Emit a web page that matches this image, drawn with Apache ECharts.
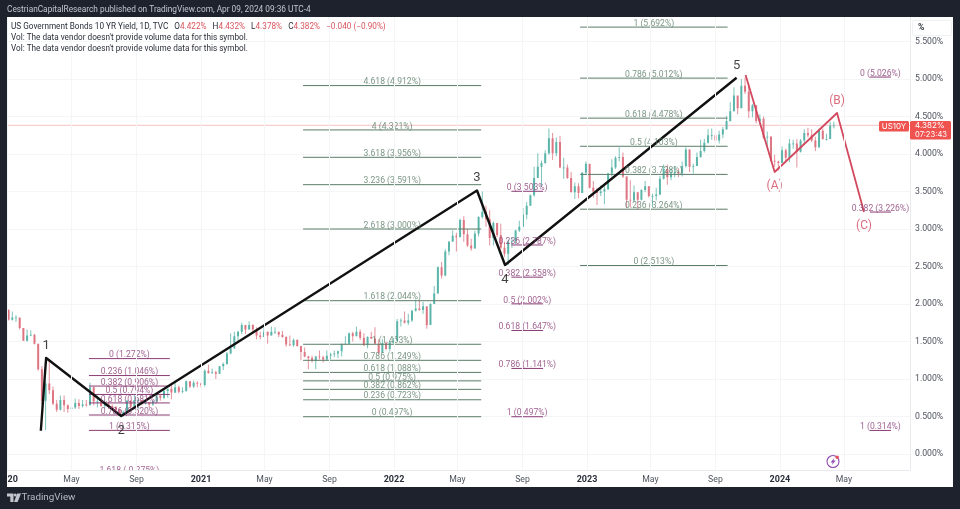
<!DOCTYPE html>
<html><head><meta charset="utf-8">
<style>html,body{margin:0;padding:0;background:#1e222d}#c{width:960px;height:509px}</style>
<script src="https://cdn.jsdelivr.net/npm/echarts@6/dist/echarts.min.js"></script>
</head><body><div id="c"></div>
<script>
// ---------- Data (weekly candles) ----------
const firstWeek = '2020-01-03';
const firstOpen = 1.92;
const closes = [1.79,1.82,1.82,1.68,1.51,1.58,1.59,1.47,1.13,0.71,0.94,0.85,0.67,0.59,0.72,0.65,0.60,0.62,0.68,0.64,0.66,0.65,0.89,0.70,0.70,0.64,0.67,0.64,0.62,0.59,0.53,0.56,0.71,0.63,0.72,0.72,0.67,0.69,0.66,0.70,0.78,0.75,0.84,0.87,0.82,0.89,0.83,0.84,0.97,0.90,0.95,0.94,
0.92,1.11,1.08,1.09,1.07,1.17,1.20,1.34,1.41,1.57,1.63,1.72,1.66,1.72,1.66,1.58,1.56,1.63,1.58,1.63,1.63,1.59,1.56,1.46,1.45,1.52,1.44,1.36,1.30,1.28,1.24,1.30,1.29,1.26,1.31,1.33,1.34,1.37,1.47,1.47,1.61,1.57,1.63,1.55,1.45,1.56,1.54,1.47,1.35,1.48,1.40,1.49,1.51,
1.77,1.78,1.75,1.78,1.91,1.94,1.92,1.97,1.72,2.00,2.14,2.49,2.38,2.70,2.83,2.91,2.89,3.12,2.93,2.78,2.74,2.94,3.16,3.23,3.13,2.88,3.08,2.92,2.75,2.67,2.83,2.84,2.98,3.03,3.19,3.31,3.45,3.68,3.83,3.88,4.01,4.21,4.01,4.16,3.82,3.82,3.68,3.49,3.57,3.48,3.75,3.87,
3.55,3.50,3.48,3.50,3.53,3.74,3.82,3.95,3.96,3.70,3.39,3.38,3.49,3.39,3.52,3.57,3.44,3.44,3.46,3.67,3.80,3.69,3.74,3.76,3.74,3.84,4.06,3.83,3.84,3.96,4.04,4.15,4.25,4.25,4.18,4.26,4.33,4.44,4.57,4.78,4.61,4.91,4.83,4.57,4.65,4.44,4.47,4.22,4.23,3.91,3.90,3.88,
4.05,3.95,4.14,4.14,4.03,4.18,4.28,4.25,4.18,4.09,4.31,4.20,4.20,4.38,4.38];
const highs = [1.93,1.90,1.85,1.80,1.68,1.66,1.65,1.60,1.47,1.17,0.98,1.27,0.90,0.72,0.78,0.78,0.66,0.67,0.74,0.73,0.72,0.72,0.95,0.90,0.78,0.72,0.71,0.70,0.66,0.64,0.60,0.58,0.72,0.71,0.79,0.74,0.72,0.72,0.69,0.72,0.80,0.78,0.88,0.87,0.95,0.97,0.91,0.89,0.98,0.97,0.98,0.97,
0.95,1.13,1.19,1.14,1.11,1.17,1.22,1.36,1.61,1.63,1.64,1.75,1.70,1.77,1.73,1.69,1.63,1.69,1.63,1.70,1.69,1.63,1.64,1.57,1.58,1.54,1.53,1.44,1.42,1.31,1.31,1.31,1.38,1.31,1.38,1.35,1.38,1.38,1.47,1.57,1.62,1.63,1.70,1.66,1.61,1.57,1.63,1.69,1.53,1.53,1.50,1.50,1.55,
1.80,1.81,1.90,1.87,1.92,2.06,2.05,2.03,1.87,2.01,2.24,2.50,2.56,2.73,2.84,2.98,2.95,3.14,3.17,3.00,2.87,2.98,3.17,3.50,3.31,3.25,3.10,3.07,3.07,2.83,2.86,2.89,2.99,3.11,3.28,3.36,3.46,3.83,4.01,3.91,4.05,4.34,4.28,4.22,4.24,3.95,3.86,3.76,3.62,3.61,3.76,3.90,
3.79,3.64,3.55,3.58,3.57,3.75,3.93,3.97,4.09,4.02,3.70,3.65,3.58,3.49,3.53,3.64,3.57,3.47,3.55,3.71,3.86,3.86,3.81,3.84,3.81,3.90,4.09,4.06,3.87,4.02,4.19,4.20,4.33,4.34,4.24,4.31,4.36,4.51,4.69,4.89,4.72,5.00,5.02,4.94,4.67,4.65,4.53,4.50,4.30,4.24,3.99,3.91,
4.10,4.07,4.20,4.19,4.20,4.20,4.33,4.35,4.33,4.23,4.34,4.34,4.27,4.43,4.43];
const lows = [1.78,1.78,1.76,1.66,1.51,1.50,1.57,1.46,1.11,0.66,0.32,0.80,0.65,0.56,0.58,0.56,0.55,0.58,0.60,0.60,0.62,0.63,0.65,0.65,0.62,0.63,0.61,0.60,0.60,0.56,0.52,0.50,0.55,0.62,0.63,0.60,0.65,0.66,0.62,0.64,0.69,0.71,0.73,0.75,0.73,0.81,0.81,0.81,0.83,0.88,0.88,0.89,
0.89,0.90,1.07,1.07,1.00,1.07,1.12,1.19,1.33,1.40,1.50,1.60,1.60,1.66,1.62,1.53,1.53,1.56,1.47,1.58,1.60,1.56,1.55,1.43,1.44,1.43,1.43,1.25,1.29,1.13,1.22,1.13,1.26,1.22,1.25,1.26,1.29,1.28,1.30,1.46,1.46,1.50,1.57,1.52,1.44,1.41,1.53,1.47,1.33,1.35,1.39,1.37,1.47,
1.63,1.70,1.74,1.72,1.76,1.90,1.91,1.87,1.67,1.72,2.10,2.14,2.34,2.37,2.65,2.84,2.70,2.90,2.83,2.76,2.71,2.74,2.90,3.14,3.03,2.78,2.78,2.89,2.73,2.63,2.52,2.75,2.80,2.96,3.03,3.13,3.31,3.43,3.70,3.56,3.87,3.99,3.92,3.97,3.81,3.67,3.67,3.49,3.40,3.41,3.48,3.72,
3.54,3.42,3.32,3.44,3.33,3.52,3.70,3.80,3.90,3.68,3.28,3.29,3.37,3.26,3.38,3.49,3.42,3.30,3.38,3.45,3.66,3.59,3.65,3.69,3.69,3.70,3.82,3.76,3.74,3.84,3.95,4.02,4.14,4.19,4.05,4.14,4.21,4.32,4.43,4.57,4.53,4.62,4.80,4.48,4.49,4.41,4.39,4.20,4.11,3.90,3.83,3.78,
3.90,3.90,3.89,4.07,3.82,4.02,4.13,4.22,4.16,4.04,4.08,4.19,4.18,4.31,4.34];

const yTicks = [0,0.5,1,1.5,2,2.5,3,3.5,4,4.5,5,5.5];
const timeTicks = ['2020-01-01','2020-05-01','2020-09-01','2021-01-01','2021-05-01','2021-09-01','2022-01-01','2022-05-01','2022-09-01','2023-01-01','2023-05-01','2023-09-01','2024-01-01','2024-05-01'];

const waveDates = ['2020-03-04','2020-03-14','2020-08-03','2022-06-07','2022-07-30','2023-10-11'];
const waveValues = [0.31,1.28,0.507,3.513,2.52,5.016];
const waveNames = ['','1','2','3','4','5'];
const correctionDates = ['2023-10-28','2023-12-22','2024-04-18','2024-06-08'];
const correctionValues = [5.053,3.76,4.547,3.227];
const correctionNames = ['','(A)','(B)','(C)'];

const fibARatios = ['4.618','4','3.618','3.236','2.618','1.618','1','0.786','0.618','0.5','0.382','0.236','0'];
const fibALevels = [4.912,4.321,3.956,3.591,3.000,2.044,1.463,1.249,1.088,0.975,0.862,0.723,0.497];
const fibASpan = ['2021-07-13','2022-06-15'];
const fibBRatios = ['1','0.786','0.618','0.5','0.382','0.236','0'];
const fibBLevels = [5.692,5.012,4.478,4.103,3.728,3.264,2.513];
const fibBSpan = ['2022-12-19','2023-09-24'];
const fibCRatios = ['0','0.236','0.382','0.5','0.618','0.786','1','1.618'];
const fibCLevels = [1.272,1.046,0.906,0.794,0.681,0.520,0.315,-0.275];
const fibCSpan = ['2020-06-03','2020-11-03'];
const fibDRatios = ['0','0.236','0.382','0.5','0.618','0.786','1'];
const fibDLevels = [3.503,2.787,2.358,2.002,1.647,1.141,0.497];
const fibDSpan = ['2022-08-11','2022-10-10'];
const fibERatios = ['0','0.382','1'];
const fibELevels = [5.026,3.226,0.314];
const fibESpan = ['2024-06-19','2024-07-29'];
const lastPrice = 4.382;

// ---------- Build ----------
const ts = s => { const [y,m,d] = s.split('-').map(Number); return Date.UTC(y,m-1,d); };
const DAY = 86400000;
const xMin = Date.UTC(2019,11,31), xMax = Date.UTC(2024,8,3);
const candles = closes.map((c,i) => [ts(firstWeek)+i*7*DAY, i? closes[i-1]:firstOpen, c, lows[i], highs[i]]);

const GREEN='#5a7c66', PURPLE='#8a3c75', ROSE='#d2495f';
const UP='#5bb5aa', DOWN='#de7583';
const FONT='Roboto, "Noto Sans", sans-serif';
const TAGFONT='Inter, "Noto Sans", sans-serif';
const MONTHS={4:'May',8:'Sep'};

function drawCandle(params, api){
  const t=api.value(0), o=api.value(1), c=api.value(2), l=api.value(3), h=api.value(4);
  const pO=api.coord([t,o]), pC=api.coord([t,c]), pL=api.coord([t,l]), pH=api.coord([t,h]);
  const col=c>=o?UP:DOWN;
  const top=Math.min(pO[1],pC[1]), ht=Math.max(Math.abs(pO[1]-pC[1]),0.8);
  return {type:'group',children:[
    {type:'line',shape:{x1:pH[0],y1:pH[1],x2:pL[0],y2:pL[1]},style:{stroke:col,lineWidth:0.8}},
    {type:'rect',shape:{x:pO[0]-1,y:top,width:2,height:ht},style:{fill:col}}
  ]};
}

function fib(ratios, levels, span, color, name){
  const a=ts(span[0]), b=ts(span[1]), mid=(a+b)/2;
  const lineData=[]; 
  levels.forEach(v=>{lineData.push([a,v],[b,v],[b,null]);});
  return [{
    name:name+' lines', type:'line', data:lineData, showSymbol:false, connectNulls:false, silent:true, z:3, clip:true,
    lineStyle:{color:color,width:1}
  },{
    name:name+' labels', type:'scatter', symbolSize:0, silent:true, z:6, clip:false,
    data:levels.map((v,i)=>({value:[mid,v],label:{formatter:ratios[i]+' ('+v.toFixed(3)+'%)'}})),
    label:{show:true,position:'top',distance:0,offset:[0,1],color:color,fontFamily:FONT,fontSize:8.6}
  }];
}
function wave(dates, values, names, color, width, size, name){
  return [{
    name:name, type:'line', data:dates.map((d,i)=>[ts(d),values[i]]), showSymbol:false, silent:true, z:5, clip:false,
    lineStyle:{color:color,width:width,join:'round'}
  },{
    name:name+' tags', type:'scatter', symbolSize:0, silent:true, z:7, clip:false,
    data:dates.map((d,i)=>{
      const dn = i>0 && values[i]<values[i-1];
      return {value:[ts(d),values[i]],label:{show:!!names[i],formatter:names[i],position:dn?'bottom':'top',distance:dn?8:6}};
    }),
    label:{color:color,fontFamily:FONT,fontSize:size}
  }];
}

const option={
  animation:false, backgroundColor:'#ffffff',
  grid:{left:7,right:50,top:17,bottom:39,containLabel:false,outerBoundsMode:'none'},
  xAxis:{type:'value',min:xMin,max:xMax,z:60,
    axisLine:{show:true,onZero:false,lineStyle:{color:'#e9eaee',width:1}},
    axisTick:{show:false,customValues:timeTicks.map(ts)},
    splitLine:{show:true,lineStyle:{color:'#f4f5f7',width:1}},
    axisLabel:{customValues:timeTicks.map(ts),hideOverlap:false,margin:5,color:'#4f535e',fontFamily:FONT,fontSize:8.7,
      showMinLabel:true,showMaxLabel:true,
      formatter:v=>{const d=new Date(v);const m=d.getUTCMonth();return m===0?'{y|'+d.getUTCFullYear()+'}':MONTHS[m];},
      rich:{y:{fontWeight:'bold',color:'#2a2e39',fontFamily:FONT,fontSize:9}}}},
  yAxis:{type:'value',position:'right',min:-16/75,max:437/75,scale:false,
    axisLine:{show:true,onZero:false,lineStyle:{color:'#e9eaee',width:1}},
    axisTick:{show:false,customValues:yTicks},
    splitLine:{show:true,lineStyle:{color:'#f4f5f7',width:1}},
    axisLabel:{customValues:yTicks,margin:5,padding:[4,0,0,0],color:'#4f535e',fontFamily:FONT,fontSize:8.7,
      formatter:v=>v.toFixed(3)+'%'}},
  series:[
    {name:'Last price',type:'line',data:[[xMin,lastPrice],[xMax,lastPrice]],showSymbol:false,silent:true,z:1,
     itemStyle:{color:'#f5cdd0'},lineStyle:{color:'#f5cdd0',width:1.4}},
    {name:'US10Y',type:'custom',data:candles,encode:{x:0,y:[1,2,3,4]},renderItem:drawCandle,clip:true,z:2,silent:true},
    ...fib(fibARatios,fibALevels,fibASpan,GREEN,'Fib A'),
    ...fib(fibBRatios,fibBLevels,fibBSpan,GREEN,'Fib B'),
    ...fib(fibCRatios,fibCLevels,fibCSpan,PURPLE,'Fib C'),
    ...fib(fibDRatios,fibDLevels,fibDSpan,PURPLE,'Fib D'),
    ...fib(fibERatios,fibELevels,fibESpan,PURPLE,'Fib E'),
    ...wave(waveDates,waveValues,waveNames,'#111111',2.4,13,'Impulse'),
    ...wave(correctionDates,correctionValues,correctionNames,ROSE,1.8,12,'Correction')
  ],
  graphic:{elements:[
    {type:'rect',z:50,silent:true,shape:{x:7,y:470.5,width:903,height:17},style:{fill:'#fff'}},
    {type:'rect',z:100,silent:true,shape:{x:0,y:0,width:960,height:17},style:{fill:'#1e222d'}},
    {type:'rect',z:100,silent:true,shape:{x:0,y:487,width:960,height:22},style:{fill:'#1e222d'}},
    {type:'rect',z:100,silent:true,shape:{x:0,y:0,width:7,height:509},style:{fill:'#1e222d'}},
    {type:'rect',z:100,silent:true,shape:{x:953,y:0,width:7,height:509},style:{fill:'#1e222d'}},
    {type:'text',z:101,x:7,y:6,style:{text:'CestrianCapitalResearch published on TradingView.com, Apr 09, 2024 09:36 UTC-4',fill:'#c3c6ce',font:'8.3px '+FONT}},
    {type:'polygon',z:101,shape:{points:[[7,493.5],[13.5,493.5],[13.5,502],[10.3,502],[10.3,496.6],[7,496.6]]},style:{fill:'#c3c6ce'}},
    {type:'circle',z:101,shape:{cx:15.2,cy:495,r:1.5},style:{fill:'#c3c6ce'}},
    {type:'polygon',z:101,shape:{points:[[17.2,493.5],[21,493.5],[17.6,502],[14,502]]},style:{fill:'#c3c6ce'}},
    {type:'text',z:101,x:21.5,y:492.5,style:{text:'TradingView',fill:'#b7bac2',font:'9.8px '+FONT}},
    {type:'text',z:70,x:11,y:23,style:{text:'{a|US Government Bonds 10 YR Yield, 1D, TVC   O}{r|4.422%}{a|   H}{r|4.432%}{a|   L}{r|4.378%}{a|   C}{r|4.382%}{r|   \u22120.040 (\u22120.90%)}',
      rich:{a:{fill:'#2a2e39',font:'8.2px '+FONT},r:{fill:'#d9555f',font:'8.2px '+FONT}}}},
    {type:'text',z:70,x:11,y:34,style:{text:"Vol: The data vendor doesn't provide volume data for this symbol.",fill:'#2a2e39',font:'8.2px '+FONT}},
    {type:'text',z:70,x:11,y:44.5,style:{text:"Vol: The data vendor doesn't provide volume data for this symbol.",fill:'#2a2e39',font:'8.2px '+FONT}},
    {type:'rect',z:70,shape:{x:912.5,y:20.5,width:39,height:15,r:2},style:{fill:'#fff',stroke:'#eff0f3'}},
    {type:'text',z:71,x:918,y:23,style:{text:'%',fill:'#2a2e39',font:'bold 8.5px '+FONT}},
    {type:'rect',z:70,shape:{x:879,y:121,width:30,height:10.5,r:1.5},style:{fill:'#ee5350'}},
    {type:'text',z:71,x:894,y:126.3,style:{text:'US10Y',fill:'#fff',font:'8px '+TAGFONT,align:'center',verticalAlign:'middle'}},
    {type:'rect',z:70,shape:{x:910,y:121,width:41,height:18.5,r:1.5},style:{fill:'#ee5350'}},
    {type:'text',z:71,x:915,y:126,style:{text:'4.382%',fill:'#fff',font:'8px '+TAGFONT,verticalAlign:'middle'}},
    {type:'text',z:71,x:915,y:134.5,style:{text:'07:23:43',fill:'#fff',font:'7.6px '+TAGFONT,verticalAlign:'middle'}},
    {type:'circle',z:70,shape:{cx:833,cy:461.5,r:6},style:{fill:'#fff',stroke:'#8e4bb0',lineWidth:1.1}},
    {type:'polygon',z:71,shape:{points:[[834.4,457.8],[830.6,462.4],[832.8,462.4],[831.8,465.3],[835.6,460.6],[833.4,460.6]]},style:{fill:'#8e4bb0'}},
    {type:'circle',z:72,shape:{cx:837.2,cy:457.3,r:1.7},style:{fill:'#e8505b'}}
  ]}
};
const chart=echarts.init(document.getElementById('c'),null,{renderer:'canvas'});
chart.setOption(option);
</script></body></html>
